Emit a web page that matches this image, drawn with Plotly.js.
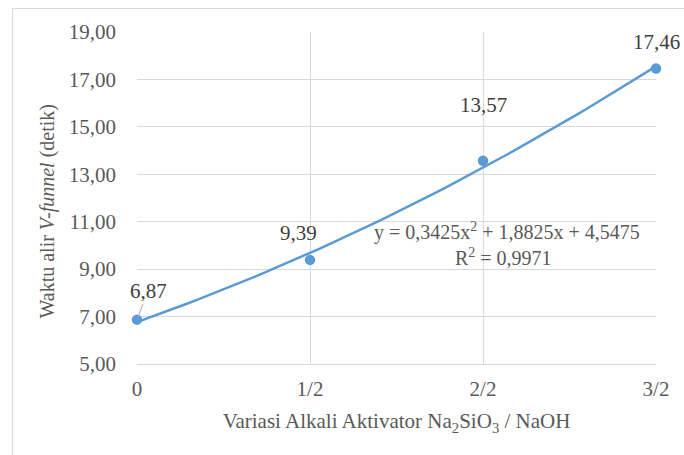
<!DOCTYPE html>
<html>
<head>
<meta charset="utf-8">
<script src="https://cdn.plot.ly/plotly-3.0.1.min.js"></script>
<style>
html,body{margin:0;padding:0;background:#fff;overflow:hidden;}
#chart{width:684px;height:455px;position:absolute;left:0;top:0;}
#frame{position:absolute;left:12px;top:8px;width:700px;height:470px;border:1px solid #d9d9d9;pointer-events:none;}
</style>
</head>
<body>
<div id="chart"></div>
<div id="frame"></div>
<script>
const categories = ["0", "1/2", "2/2", "3/2"];
const xPos = [1, 2, 3, 4];
const values = [6.87, 9.39, 13.57, 17.46];
const labels = ["6,87", "9,39", "13,57", "17,46"];
const trendCoef = [0.3425, 1.8825, 4.5475]; // a, b, c from chart equation
const yTickVals = [5, 7, 9, 11, 13, 15, 17, 19];
const yTickText = ["5,00", "7,00", "9,00", "11,00", "13,00", "15,00", "17,00", "19,00"];

const blue = "#5B9BD5";
const txt = "#595959";
const font = "Liberation Serif";

const tx = [], ty = [];
for (let i = 0; i <= 60; i++) {
  const x = 1 + i * 3 / 60;
  tx.push(x);
  ty.push(trendCoef[0] * x * x + trendCoef[1] * x + trendCoef[2]);
}

const traces = [
  {x: tx, y: ty, mode: "lines", line: {color: blue, width: 2.5}, hoverinfo: "skip", cliponaxis: false},
  {x: xPos, y: values, mode: "markers", marker: {color: blue, size: 10.5}, cliponaxis: false}
];

const labelOffsets = [[11, -29], [-12, -27], [0, -56], [0, -27]];
const annotations = values.map((v, i) => {
  const a = {x: xPos[i], y: v, text: labels[i], xref: "x", yref: "y",
    showarrow: true, arrowwidth: 0.01, arrowcolor: "rgba(0,0,0,0)",
    ax: labelOffsets[i][0], ay: labelOffsets[i][1],
    font: {family: font, size: 21, color: "#404040"}};
  if (i === 0) { a.arrowcolor = "#a6a6a6"; a.arrowwidth = 1; a.arrowhead = 0; a.standoff = 2; }
  return a;
});
annotations.push({xref: "paper", yref: "paper", x: 0.712, y: 0.398, xanchor: "center", yanchor: "middle", showarrow: false,
  text: "y = 0,3425x<sup>2</sup> + 1,8825x + 4,5475", font: {family: font, size: 20, color: txt}});
annotations.push({xref: "paper", yref: "paper", x: 0.706, y: 0.322, xanchor: "center", yanchor: "middle", showarrow: false,
  text: "R<sup>2</sup> = 0,9971", font: {family: font, size: 20, color: txt}});
annotations.push({xref: "paper", yref: "paper", x: -0.173, y: 0.46, xanchor: "center", yanchor: "middle", showarrow: false,
  textangle: -90, text: "Waktu alir <i>V-funnel</i> (detik)", font: {family: font, size: 20, color: txt}});

const layout = {
  width: 684, height: 455,
  margin: {l: 137, r: 28, t: 32, b: 91},
  paper_bgcolor: "#fff", plot_bgcolor: "#fff",
  showlegend: false,
  font: {family: font, size: 20, color: txt},
  xaxis: {
    range: [1, 4], tickvals: xPos, ticktext: categories,
    showgrid: true, gridcolor: "#d9d9d9", gridwidth: 1,
    zeroline: false, showline: true, linecolor: "#d9d9d9", mirror: false,
    ticks: "", ticklen: 0, ticklabelstandoff: 6, tickfont: {family: font, size: 21, color: txt},
    title: {text: "Variasi Alkali Aktivator Na<sub>2</sub>SiO<sub>3</sub> / NaOH", font: {family: font, size: 21, color: txt}, standoff: 13}
  },
  yaxis: {
    range: [5, 19], tickvals: yTickVals, ticktext: yTickText,
    showgrid: true, gridcolor: "#d9d9d9", gridwidth: 1,
    zeroline: false, showline: false,
    ticks: "", ticklen: 0, ticklabelstandoff: 20, tickfont: {family: font, size: 21, color: txt}
  },
  annotations: annotations
};

Plotly.newPlot("chart", traces, layout, {displayModeBar: false, staticPlot: true});
</script>
</body>
</html>
